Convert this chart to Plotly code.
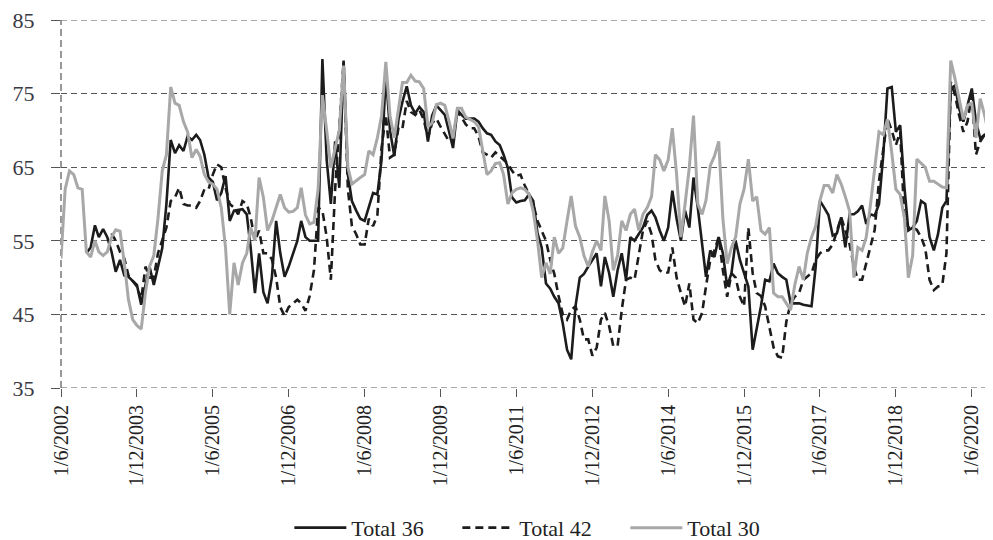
import pandas as pd
import plotly.graph_objects as go

START = "2002-06-01"

total_30 = [
    52.6, 62, 64.5, 64, 62.2, 62, 53.5, 52.8, 55, 53.5, 53, 53.5,
    55.5, 56.5, 56.3, 52, 47, 44.3, 43.5, 43, 48, 51.5, 53, 58,
    64.5, 66.7, 75.9, 73.7, 73.4, 71.2, 69.8, 66.3, 67.4, 66.5, 64, 63,
    62.7, 62, 59.5, 54, 45, 52, 49, 52, 53.3, 56.8, 55, 63.6,
    60.9, 56.4, 57.7, 59.5, 61.3, 59.5, 58.9, 59, 59.5, 62.2, 58.5, 57.3,
    57.5, 62, 74.8, 70, 64.9, 67.6, 70, 78.8, 65, 62.7, 63.2, 63.6,
    64, 67.2, 66.7, 69, 72, 79.3, 72, 69, 73, 76.5, 76.5, 77.5,
    76.7, 76.6, 75.7, 70.5, 71, 73.5, 73.7, 73.4, 71.2, 68.9, 73, 73,
    71.8, 71.5, 71.2, 70.5, 67, 64, 64.5, 65.5, 65.6, 64, 60, 61.5,
    62, 62.2, 62, 61.3, 59, 55, 50, 52, 50.5, 55.5, 53.3, 54,
    57.7, 61.1, 57, 55.5, 53, 51.5, 53.5, 55, 53.7, 61.1, 57.7, 51,
    53, 57.7, 56.4, 58.6, 59.3, 56.4, 58.6, 59.5, 61, 66.7, 66, 64.5,
    66, 70.3, 64, 55.5, 60, 65, 72, 60, 58.6, 60.5, 65.2, 66.5,
    68.5, 58, 51.9, 54.1, 55.5, 60, 62, 66.1, 60.4, 61, 56.4, 55.9,
    56.8, 47.9, 47.4, 47.4, 46.5, 45.6, 49, 51.5, 49.7, 53.3, 55.5, 57,
    60.5, 62.5, 62.5, 61.5, 64, 62.7, 61, 59, 50, 54.1, 53.7, 55.5,
    60, 64.5, 69.8, 69.4, 71.5, 67, 62, 61.3, 58, 50, 53, 66.1,
    65.6, 65, 63.1, 63.1, 62.7, 62.3, 62.2, 79.5, 77, 74.5, 71.5, 73.4,
    73.7, 69, 74.3, 72.1, 69.4,
]

total_36 = [
    None, None, None, None, None, None, 53.3, 54.1, 57.1, 55.5, 56.6, 55.5,
    53.5, 50.8, 52.4, 50.3, 50.1, 49.5, 49, 46.3, 49.2, 51.5, 49, 51.5,
    54, 60, 68.7, 66.9, 68, 67.2, 69.2, 68.7, 69.4, 68.7, 66.7, 63.6,
    63, 60.5, 61.5, 63.8, 57.7, 59.1, 59.2, 59.3, 58.6, 54.1, 47.9, 53.3,
    48, 46.5, 50, 57.7, 53.3, 50.1, 51.5, 53.3, 55, 57.7, 55.5, 55,
    55, 55, 79.7, 66, 60, 68.5, 62.2, 79.5, 64, 60.4, 59.1, 58,
    57.7, 59.5, 61.5, 61.3, 66, 77.5, 70, 66.5, 71.6, 73.9, 76, 73.4,
    72.3, 73.2, 72.5, 68.5, 72, 73.4, 72.8, 72.1, 69.8, 67.6, 72.8, 72.1,
    71.6, 71.6, 71.6, 71.2, 70.3, 69.6, 69.4, 68.5, 68, 66.7, 64.9, 60.9,
    60.2, 60.4, 60.5, 61.3, 60.4, 56, 54.1, 49.2, 48.5, 47.4, 46.5, 43.8,
    40.2, 38.9, 46.1, 50, 50.5, 51.5, 52.4, 53.3, 48.8, 52.8, 50.6, 47.4,
    51, 53.3, 49.7, 55.5, 55, 55.9, 56.8, 58.5, 59.1, 58.2, 56.4, 55,
    56.8, 61.8, 58, 55, 59.1, 56.8, 63.6, 59.5, 54.1, 50.1, 53.7, 52.8,
    55.5, 53.3, 48.8, 50.6, 55, 52.4, 50.6, 48.8, 40.2, 42.9, 46.1, 49.7,
    49.5, 51.9, 50.6, 50.1, 49.7, 46.5, 46.5, 46.5, 46.3, 46.2, 46.1, 51.5,
    60.4, 59.5, 58.5, 55.7, 56, 58.2, 54.1, 58.6, 58.6, 59, 59.8, 57.3,
    58.6, 58.4, 60, 66.7, 75.7, 75.9, 69.8, 70.7, 62.2, 56.4, 56.8, 57.7,
    60.4, 60, 55.5, 53.7, 55.9, 59.5, 60.4, 75.7, 76.1, 73, 71.2, 73.4,
    75.7, 71.2, 68.9, 69.4, 69.2,
]

total_42 = [
    None, None, None, None, None, None, None, None, None, None, None, None,
    56, 55, 53.5, 52.6, 50.3, 49.5, 48.8, 47, 51.5, 50, 50, 53.3,
    55, 56.8, 60.4, 60.9, 62.2, 60, 59.8, 59.8, 59.5, 60.4, 62, 62,
    64, 65.4, 65, 62.2, 60, 59.5, 58.6, 60.4, 60, 58.2, 55, 56.4,
    53.3, 53.3, 52.5, 50, 46, 44.8, 46, 46.5, 47, 46.5, 45.5, 47.5,
    51, 59.5, 59.1, 55.5, 49.7, 62, 70, 79.3, 62, 57, 55.9, 54.5,
    54.5, 58, 57, 58.5, 67.6, 72.1, 66.3, 66.7, 70.5, 70.3, 74, 72.5,
    72.1, 72.8, 71.5, 69, 71, 71.6, 70.5, 69.5, 68.5, 69, 72.5, 71.8,
    70.8, 70.3, 70.3, 69.2, 67, 66.7, 66.3, 67, 66.5, 66, 65.5, 64.5,
    63.8, 64, 62.5, 61.3, 60, 57.7, 56.4, 55, 52.4, 50.5, 47.5, 45,
    44.3, 45.6, 46.1, 44.3, 41.6, 41.6, 39.4, 40.5, 44.3, 45.2, 43.4, 40.7,
    40.7, 45.6, 49.7, 50, 49.7, 53, 56.4, 57.7, 55.9, 52.4, 51, 50.6,
    50.7, 54.1, 50, 47.9, 46.1, 49.2, 44.3, 43.8, 45.2, 48.8, 52.4, 53.7,
    55.5, 51, 47.4, 50.6, 50, 47.4, 46.1, 56.8, 50.6, 47.9, 47.5, 46.1,
    43, 40.5, 39.3, 39.1, 44, 46.5, 47.4, 47.9, 49.7, 50.1, 50.6, 52.4,
    53.3, 53.7, 53.7, 54.5, 56.4, 58.2, 56.4, 54.5, 51.5, 49.7, 49.7, 51.9,
    54.1, 56.5, 63.1, 67.6, 71.6, 70, 68, 69.8, 57.7, 56.8, 56.8, 56.5,
    55.5, 54, 49.7, 48.3, 48.8, 49, 53.3, 76.6, 74.8, 72.1, 69.8, 71.2,
    74.8, 66.7, 68.5, 69.4, 69.4,
]

tick_dates = ["2002-06-01", "2003-12-01", "2005-06-01", "2006-12-01", "2008-06-01",
              "2009-12-01", "2011-06-01", "2012-12-01", "2014-06-01", "2015-12-01",
              "2017-06-01", "2018-12-01", "2020-06-01"]
tick_labels = ["1/6/2002", "1/12/2003", "1/6/2005", "1/12/2006", "1/6/2008",
               "1/12/2009", "1/6/2011", "1/12/2012", "1/6/2014", "1/12/2015",
               "1/6/2017", "1/12/2018", "1/6/2020"]
y_ticks = [35, 45, 55, 65, 75, 85]
y_min, y_max = 35, 85

dates = pd.date_range(START, periods=len(total_30), freq="MS")

FONT = "Liberation Serif, Times New Roman, serif"
GRID = dict(color="#555555", width=1.2, dash="6px,4px")

fig = go.Figure()
fig.add_trace(go.Scatter(x=dates, y=total_36, name="Total 36", mode="lines",
                         line=dict(color="#1c1c1c", width=2.6)))
fig.add_trace(go.Scatter(x=dates, y=total_42, name="Total 42", mode="lines",
                         line=dict(color="#1c1c1c", width=2.6, dash="8px,5px")))
fig.add_trace(go.Scatter(x=dates, y=total_30, name="Total 30", mode="lines",
                         line=dict(color="#a8a8a8", width=3)))

# dashed left axis line and dashed edge gridlines (top / bottom)
fig.add_shape(type="line", xref="x domain", yref="y domain", x0=0, x1=0, y0=0, y1=1,
              line=dict(color="#555555", width=1.2, dash="7px,4px"), layer="below")
for yv in (y_min, y_max):
    fig.add_shape(type="line", xref="x domain", yref="y", x0=0, x1=1, y0=yv, y1=yv,
                  line=GRID, layer="below")

# page body has an 8px margin; figure is tall enough that the legend never
# pushes the plot margins (the part below the window is simply not shown)
fig.update_layout(
    width=985, height=556,
    margin=dict(l=53, r=0, t=12, b=176),
    paper_bgcolor="white", plot_bgcolor="white",
    font=dict(family=FONT, color="#222222"),
    showlegend=True,
    legend=dict(orientation="h", x=0.245, xanchor="left", y=-0.38, yanchor="middle",
                font=dict(family=FONT, size=22, color="#222222"),
                traceorder="normal", itemwidth=52,
                entrywidth=101, entrywidthmode="pixels"),
)
fig.update_xaxes(
    range=["2002-06-01", "2020-11-01"], automargin=False,
    tickmode="array", tickvals=tick_dates, ticktext=tick_labels,
    tickangle=-90, tickfont=dict(family=FONT, size=20, color="#222222"),
    ticks="outside", ticklen=8, tickcolor="#555555", tickwidth=1,
    ticklabeloverflow="allow",
    showgrid=False, zeroline=False, showline=False,
)
fig.update_yaxes(
    range=[y_min, y_max], automargin=False, tickmode="array", tickvals=y_ticks,
    tickfont=dict(family=FONT, size=22, color="#3a3a44"),
    ticks="outside", ticklen=9, tickcolor="#555555", tickwidth=1,
    ticklabelstandoff=12, ticklabeloverflow="allow",
    showgrid=True, gridcolor=GRID["color"], gridwidth=GRID["width"], griddash=GRID["dash"],
    zeroline=False, showline=False,
)

fig.write_html("out.html")
